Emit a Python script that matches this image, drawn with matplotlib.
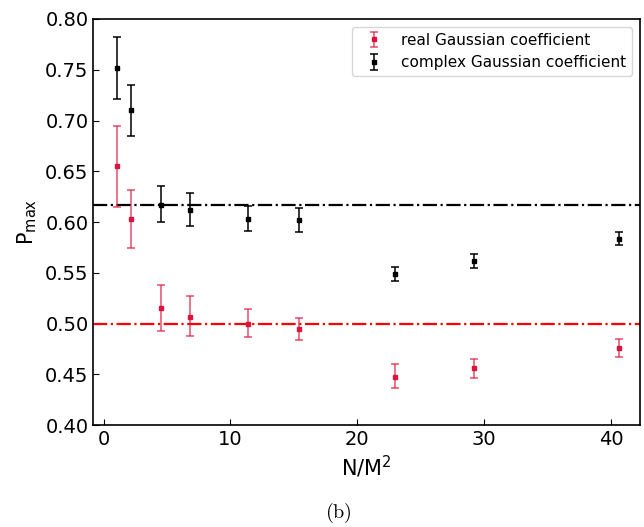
import matplotlib.pyplot as plt
import numpy as np

plt.rcParams['mathtext.fontset'] = 'dejavusans'

# N/M^2 values
n_over_m2 = [1.1, 2.2, 4.5, 6.8, 11.4, 15.4, 23.0, 29.2, 40.6]

# real Gaussian coefficient
real_p = [0.655, 0.603, 0.515, 0.507, 0.500, 0.495, 0.448, 0.456, 0.476]
real_lo = [0.615, 0.575, 0.493, 0.488, 0.487, 0.484, 0.437, 0.447, 0.467]
real_hi = [0.695, 0.632, 0.538, 0.527, 0.514, 0.506, 0.460, 0.465, 0.485]

# complex Gaussian coefficient
cplx_p = [0.752, 0.710, 0.617, 0.612, 0.603, 0.602, 0.549, 0.562, 0.583]
cplx_lo = [0.721, 0.685, 0.600, 0.596, 0.591, 0.590, 0.542, 0.555, 0.577]
cplx_hi = [0.782, 0.735, 0.636, 0.629, 0.616, 0.614, 0.556, 0.569, 0.590]

# reference levels
real_ref = 0.5
cplx_ref = 0.617


def asym_err(center, lo, hi):
    center = np.array(center)
    return [center - np.array(lo), np.array(hi) - center]


fig = plt.figure(figsize=(6.44, 5.27), dpi=100)
ax = fig.add_axes([0.145, 0.193, 0.849, 0.771])

ax.axhline(cplx_ref, color='black', linestyle='-.', linewidth=1.6)
ax.axhline(real_ref, color='red', linestyle='-.', linewidth=1.6)

eb = ax.errorbar(n_over_m2, real_p, yerr=asym_err(real_p, real_lo, real_hi),
                 fmt='s', color='crimson', markersize=3, capsize=3,
                 elinewidth=1.1, capthick=1.1,
                 label='real Gaussian coefficient')
for part in eb[1] + eb[2]:
    part.set_alpha(0.75)

ax.errorbar(n_over_m2, cplx_p, yerr=asym_err(cplx_p, cplx_lo, cplx_hi),
            fmt='s', color='black', markersize=3, capsize=3,
            elinewidth=1.1, capthick=1.1,
            label='complex Gaussian coefficient')

ax.set_xlim(-0.8, 42.3)
ax.set_ylim(0.40, 0.80)
ax.set_xticks([0, 10, 20, 30, 40])
ax.set_yticks(np.arange(0.40, 0.801, 0.05))
ax.set_yticklabels([f'{v:.2f}' for v in np.arange(0.40, 0.801, 0.05)])
ax.tick_params(direction='in', labelsize=14, length=4)
for s in ax.spines.values():
    s.set_linewidth(1.2)

ax.set_xlabel(r'N/M$^2$', fontsize=15, labelpad=3)
ax.set_ylabel(r'P$_{\mathrm{max}}$', fontsize=15, labelpad=4)

ax.legend(loc='upper right', fontsize=11, borderaxespad=0.5)

fig.text(0.525, 0.026, r'$\mathrm{(b)}$', fontsize=14.5, ha='center',
         va='center', math_fontfamily='cm')

fig.savefig('out.png', dpi=100)
